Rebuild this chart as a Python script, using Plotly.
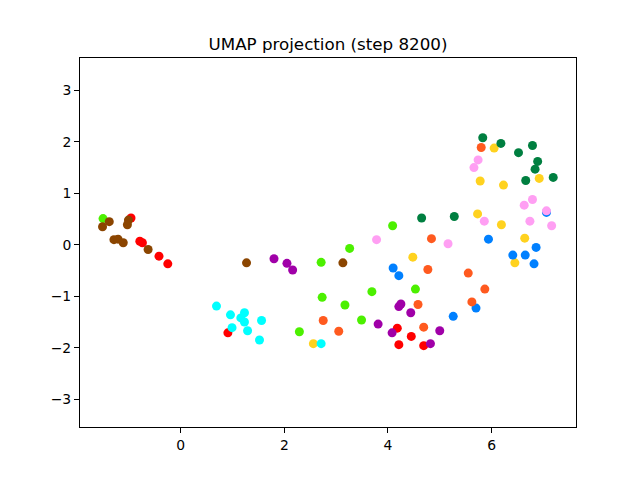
import plotly.graph_objects as go

# Data (UMAP coordinates), one group per colour
red_x = [-0.96, -0.79, -0.74, -0.42, -0.25, 0.91, 4.18, 4.45, 4.21, 4.69]
red_y = [0.52, 0.07, 0.04, -0.22, -0.37, -1.71, -1.62, -1.78, -1.94, -1.96]

green_x = [-1.50, 2.71, 3.26, 2.73, 3.17, 3.69, 3.49, 2.29, 4.09, 4.53]
green_y = [0.51, -0.34, -0.07, -1.02, -1.17, -0.91, -1.46, -1.69, 0.37, -0.86]

yellow_x = [2.56, 4.48, 5.73, 6.19, 6.05, 5.78, 6.23, 6.92, 6.64, 6.45]
yellow_y = [-1.92, -0.24, 0.60, 0.39, 1.88, 1.24, 1.16, 1.29, 0.13, -0.35]

blue_x = [4.10, 4.21, 5.94, 5.70, 5.26, 6.86, 6.41, 6.65, 6.82, 7.06]
blue_y = [-0.45, -0.60, 0.11, -1.23, -1.39, -0.05, -0.20, -0.20, -0.37, 0.63]

orange_x = [2.75, 3.05, 4.84, 4.77, 4.58, 4.69, 5.55, 5.87, 5.62, 5.80]
orange_y = [-1.47, -1.68, 0.12, -0.48, -1.16, -1.60, -0.55, -0.86, -1.11, 1.89]

cyan_x = [0.69, 0.96, 1.23, 1.16, 1.23, 1.56, 0.99, 1.29, 1.52, 2.71]
cyan_y = [-1.19, -1.36, -1.32, -1.42, -1.50, -1.47, -1.61, -1.67, -1.85, -1.92]

purple_x = [1.80, 2.05, 2.16, 3.81, 4.25, 4.21, 4.44, 4.08, 5.00, 4.82]
purple_y = [-0.27, -0.36, -0.49, -1.54, -1.15, -1.20, -1.32, -1.71, -1.67, -1.92]

brown_x = [-1.38, -1.51, -1.01, -1.03, -1.29, -1.21, -1.11, -0.63, 1.27, 3.13]
brown_y = [0.45, 0.35, 0.48, 0.39, 0.10, 0.11, 0.04, -0.09, -0.35, -0.35]

dkgreen_x = [4.65, 5.28, 5.83, 6.18, 6.79, 6.52, 6.89, 6.84, 6.66, 7.19]
dkgreen_y = [0.52, 0.55, 2.08, 1.97, 1.93, 1.79, 1.62, 1.47, 1.25, 1.31]

pink_x = [3.78, 5.16, 5.86, 5.74, 5.66, 6.79, 6.63, 7.06, 6.74, 7.16]
pink_y = [0.10, 0.02, 0.46, 1.65, 1.50, 0.88, 0.77, 0.66, 0.46, 0.37]

x_ticks = [0, 2, 4, 6]
y_ticks = [-3, -2, -1, 0, 1, 2, 3]
title_text = "UMAP projection (step 8200)"

groups = [
    (red_x, red_y, "#ff0000"),
    (green_x, green_y, "#4cf000"),
    (yellow_x, yellow_y, "#ffd21f"),
    (blue_x, blue_y, "#0080ff"),
    (orange_x, orange_y, "#ff5a1f"),
    (cyan_x, cyan_y, "#00ffff"),
    (purple_x, purple_y, "#a000a8"),
    (brown_x, brown_y, "#8b4500"),
    (dkgreen_x, dkgreen_y, "#007f40"),
    (pink_x, pink_y, "#ff9ff3"),
]

fig = go.Figure()
for gx, gy, col in groups:
    fig.add_trace(go.Scatter(x=gx, y=gy, mode="markers",
                             marker=dict(color=col, size=9, line=dict(width=0)),
                             showlegend=False))

axis_common = dict(showgrid=False, zeroline=False, showline=True, linecolor="black",
                   linewidth=1, mirror=True, ticks="outside", ticklen=5, tickwidth=1,
                   tickcolor="black", tickfont=dict(family="DejaVu Sans", size=13.9, color="black"))

fig.update_layout(
    width=640, height=480,
    margin=dict(l=80, r=64, t=58, b=53),
    paper_bgcolor="white", plot_bgcolor="white",
    title=dict(text=title_text, x=0.5, xref="paper", y=1 - 44 / 480, yref="container",
               xanchor="center", yanchor="middle",
               font=dict(family="DejaVu Sans", size=16.7, color="black")),
    xaxis=dict(range=[-1.945, 7.63], tickvals=x_ticks, **axis_common),
    yaxis=dict(range=[-3.54, 3.63], tickvals=y_ticks, **axis_common),
)

fig.write_html("out.html")
